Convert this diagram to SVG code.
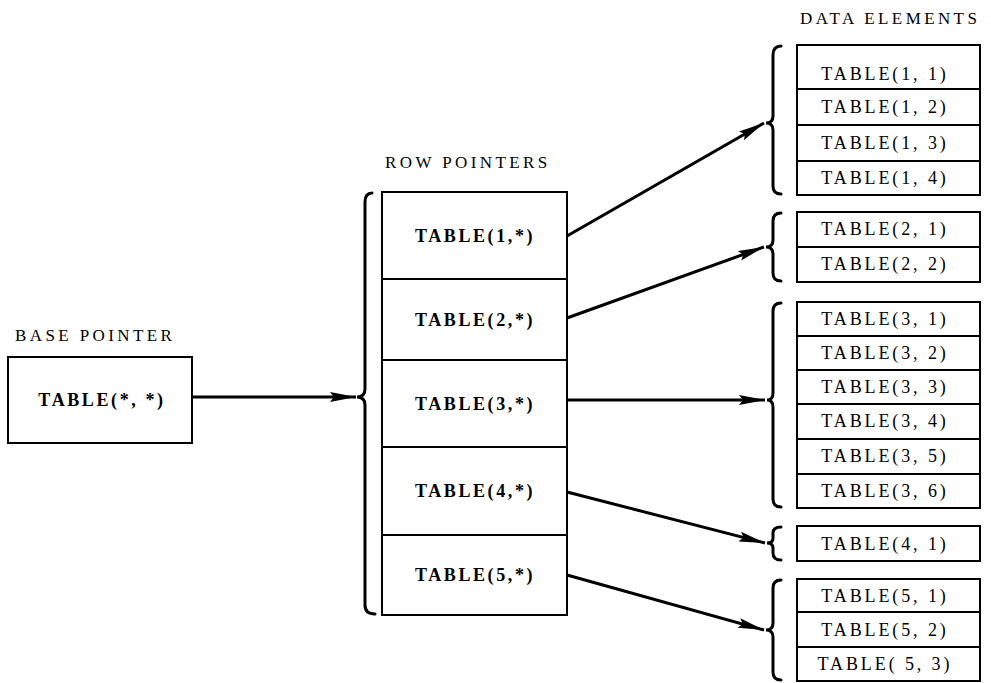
<svg xmlns="http://www.w3.org/2000/svg" width="991" height="683" viewBox="0 0 991 683">
  <defs>
    <marker id="head" markerUnits="userSpaceOnUse" markerWidth="28" markerHeight="12" refX="26" refY="6" orient="auto">
      <path d="M0,1 L26,6 L0,11 L4,6 z" fill="#000"/>
    </marker>
  </defs>
  <style>
    .box { fill: #fff; stroke: #000; stroke-width: 2; }
    .sep { stroke: #000; stroke-width: 2; }
    .brace { fill: none; stroke: #000; stroke-width: 3; stroke-linecap: round; }
    .arrow { fill: none; stroke: #000; stroke-width: 3; marker-end: url(#head); }
    .head { font-family: "Liberation Serif", "DejaVu Serif", serif; font-size: 17px; letter-spacing: 3.4px; fill: #000; }
    .ptr { font-family: "Liberation Serif", "DejaVu Serif", serif; font-size: 18px; font-weight: bold; letter-spacing: 2.6px; fill: #000; text-anchor: middle; dominant-baseline: central; }
    .cell { font-family: "Liberation Serif", "DejaVu Serif", serif; font-size: 18px; letter-spacing: 2.9px; fill: #000; text-anchor: middle; dominant-baseline: central; }
  </style>

  <rect width="991" height="683" fill="#fff"/>

  <!-- column headings -->
  <text class="head" x="15" y="341">BASE POINTER</text>
  <text class="head" x="385" y="168">ROW POINTERS</text>
  <text class="head" x="800" y="24">DATA ELEMENTS</text>

  <!-- base pointer -->
  <g id="base-pointer">
    <rect class="box" x="8" y="357" width="184" height="86"/>
    <text class="ptr" x="102" y="400">TABLE(*, *)</text>
  </g>

  <!-- row pointer vector -->
  <g id="row-pointers">
    <path class="brace" d="M372,193 Q365,193 365,202 L365,389 Q365,397 357,397 Q365,397 365,405 L365,605 Q365,614 375,614"/>
    <rect class="box" x="382" y="192" width="185" height="423"/>
    <line class="sep" x1="382" y1="279" x2="567" y2="279"/>
    <line class="sep" x1="382" y1="360" x2="567" y2="360"/>
    <line class="sep" x1="382" y1="447" x2="567" y2="447"/>
    <line class="sep" x1="382" y1="535" x2="567" y2="535"/>
    <text class="ptr" x="475" y="236">TABLE(1,*)</text>
    <text class="ptr" x="475" y="320">TABLE(2,*)</text>
    <text class="ptr" x="475" y="404">TABLE(3,*)</text>
    <text class="ptr" x="475" y="491">TABLE(4,*)</text>
    <text class="ptr" x="475" y="575">TABLE(5,*)</text>
  </g>

  <!-- data rows -->
  <g id="row-1">
    <path class="brace" d="M781,46 Q773,46 773,55 L773,116 Q773,123 766,123 Q773,123 773,130 L773,186 Q773,194 781,194"/>
    <rect class="box" x="797" y="45" width="183" height="150"/>
    <line class="sep" x1="797" y1="89" x2="980" y2="89"/>
    <line class="sep" x1="797" y1="125" x2="980" y2="125"/>
    <line class="sep" x1="797" y1="161" x2="980" y2="161"/>
    <text class="cell" x="885" y="74">TABLE(1, 1)</text>
    <text class="cell" x="885" y="107">TABLE(1, 2)</text>
    <text class="cell" x="885" y="143">TABLE(1, 3)</text>
    <text class="cell" x="885" y="178">TABLE(1, 4)</text>
  </g>

  <g id="row-2">
    <path class="brace" d="M781,213 Q773,213 773,221 L773,240 Q773,247 766,247 Q773,247 773,254 L773,273 Q773,281 781,281"/>
    <rect class="box" x="797" y="212" width="183" height="70"/>
    <line class="sep" x1="797" y1="247" x2="980" y2="247"/>
    <text class="cell" x="885" y="229">TABLE(2, 1)</text>
    <text class="cell" x="885" y="264">TABLE(2, 2)</text>
  </g>

  <g id="row-3">
    <path class="brace" d="M781,303 Q773,303 773,311 L773,393 Q773,400 767,400 Q773,400 773,407 L773,499 Q773,507 781,507"/>
    <rect class="box" x="797" y="302" width="183" height="206"/>
    <line class="sep" x1="797" y1="336" x2="980" y2="336"/>
    <line class="sep" x1="797" y1="370" x2="980" y2="370"/>
    <line class="sep" x1="797" y1="404" x2="980" y2="404"/>
    <line class="sep" x1="797" y1="439" x2="980" y2="439"/>
    <line class="sep" x1="797" y1="474" x2="980" y2="474"/>
    <text class="cell" x="885" y="319">TABLE(3, 1)</text>
    <text class="cell" x="885" y="353">TABLE(3, 2)</text>
    <text class="cell" x="885" y="387">TABLE(3, 3)</text>
    <text class="cell" x="885" y="421">TABLE(3, 4)</text>
    <text class="cell" x="885" y="456">TABLE(3, 5)</text>
    <text class="cell" x="885" y="491">TABLE(3, 6)</text>
  </g>

  <g id="row-4">
    <path class="brace" d="M781,527 Q773,527 773,533 L773,538 Q773,543 767,543 Q773,543 773,548 L773,553 Q773,560 781,560"/>
    <rect class="box" x="797" y="526" width="183" height="35"/>
    <text class="cell" x="885" y="544">TABLE(4, 1)</text>
  </g>

  <g id="row-5">
    <path class="brace" d="M781,580 Q773,580 773,588 L773,623 Q773,630 766,630 Q773,630 773,637 L773,672 Q773,680 781,680"/>
    <rect class="box" x="797" y="579" width="183" height="102"/>
    <line class="sep" x1="797" y1="612" x2="980" y2="612"/>
    <line class="sep" x1="797" y1="647" x2="980" y2="647"/>
    <text class="cell" x="885" y="596">TABLE(5, 1)</text>
    <text class="cell" x="885" y="630">TABLE(5, 2)</text>
    <text class="cell" x="885" y="664">TABLE( 5, 3)</text>
  </g>

  <!-- connectors -->
  <g id="connectors">
    <line class="arrow" x1="192" y1="397" x2="356" y2="397"/>
    <line class="arrow" x1="567" y1="236" x2="764" y2="123"/>
    <line class="arrow" x1="567" y1="318" x2="764" y2="247"/>
    <line class="arrow" x1="567" y1="400" x2="765" y2="400"/>
    <line class="arrow" x1="567" y1="492" x2="765" y2="543"/>
    <line class="arrow" x1="567" y1="575" x2="764" y2="630"/>
  </g>
</svg>
